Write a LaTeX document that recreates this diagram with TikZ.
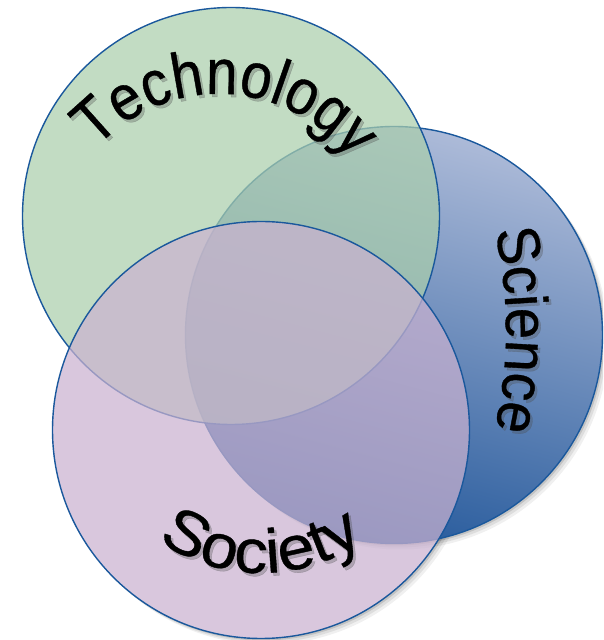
\documentclass[tikz,border=0pt]{standalone}
\usepackage{fontspec}
\setmainfont{Liberation Sans}
\newfontfamily\techfam[FakeStretch=0.88,FakeBold=0.6]{Liberation Sans}
\newfontfamily\scifam[FakeStretch=0.94,FakeBold=0.6]{Liberation Sans}
\newfontfamily\socfam[FakeStretch=1.08,FakeBold=0.6]{Liberation Sans}
\usetikzlibrary{decorations.text}

\definecolor{techgreen}{RGB}{170,206,172}
\definecolor{socpink}{RGB}{202,178,208}
\definecolor{scitop}{RGB}{172,186,216}
\definecolor{scibot}{RGB}{38,90,156}
\definecolor{rim}{RGB}{26,88,156}

\newcommand\techfont{\techfam\fontsize{64}{64}\selectfont}
\newcommand\scifont{\scifam\fontsize{60}{60}\selectfont}
\newcommand\socfont{\socfam\fontsize{62}{62}\selectfont}

\tikzset{
  ring/.style={circle, inner sep=0pt, minimum size=417pt, draw=rim, line width=1.4pt},
  arclabel/.style 2 args={decorate, decoration={text along path, text align=center,
      text color=black, text={|#1|#2}}},
  arcshadow/.style 2 args={decorate, decoration={text along path, text align=center,
      text color=black!70, text={|#1|#2}}},
}

\begin{document}
\begin{tikzpicture}[x=1pt,y=1pt]
\useasboundingbox (0,0) rectangle (603,640);

% soft drop shadows outside the science and society discs
\begin{scope}[even odd rule]
  \clip (0,0) rectangle (603,640) (394,305) circle[radius=208.5];
  \foreach \d/\o in {6/0.06,4/0.08,2/0.12}
    \fill[black, opacity=\o] (394+\d,305-\d) circle[radius=208.5];
\end{scope}
\begin{scope}[even odd rule]
  \clip (0,0) rectangle (603,640) (261,210) circle[radius=208.5];
  \foreach \d/\o in {6/0.06,4/0.08,2/0.12}
    \fill[black, opacity=\o] (261+\d,210-\d) circle[radius=208.5];
\end{scope}

% the three discs
\node[ring, top color=scitop, bottom color=scibot, shading angle=-15] (science) at (394,305) {};
\node[ring, fill=techgreen, fill opacity=0.72] (technology) at (231,424) {};
\node[ring, fill=socpink, fill opacity=0.72] (society) at (261,210) {};

% curved labels with a soft shadow
\begin{scope}[opacity=0.3, transform canvas={shift={(2.5pt,-3pt)}}]
  \path[arcshadow={\techfont}{Technology}] (219,380) ++(150:166) arc[start angle=150, end angle=25, radius=166];
  \path[arcshadow={\scifont}{Science}] (60,310) ++(25:446) arc[start angle=25, end angle=-25, radius=446];
  \path[arcshadow={\socfont}{Society}] (261,245) ++(-130:178) arc[start angle=-130, end angle=-50, radius=178];
\end{scope}
\path[arclabel={\techfont}{Technology}] (219,380) ++(150:166) arc[start angle=150, end angle=25, radius=166];
\path[arclabel={\scifont}{Science}] (60,310) ++(25:446) arc[start angle=25, end angle=-25, radius=446];
\path[arclabel={\socfont}{Society}] (261,245) ++(-130:178) arc[start angle=-130, end angle=-50, radius=178];
\end{tikzpicture}
\end{document}
